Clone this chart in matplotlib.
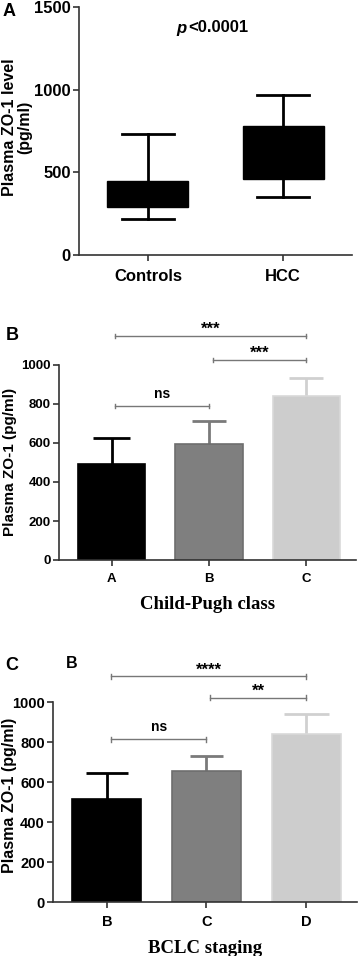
import numpy as np
import matplotlib
matplotlib.use("Agg")
import matplotlib.pyplot as plt

plt.rcParams['font.family'] = ['Liberation Sans', 'DejaVu Sans']
plt.rcParams['font.weight'] = 'bold'

# ---- panel A: box plot ----
groups_a = ["Controls", "HCC"]
whislo_a = [218, 353]
q1_a = [290, 458]
med_a = [370, 620]
q3_a = [448, 780]
whishi_a = [732, 966]

# ---- panel B: Child-Pugh class ----
cats_b = ["A", "B", "C"]
means_b = [492, 593, 841]
err_b = [132, 121, 94]
sig_b = [(0, 1, 790, "ns"), (1, 2, 1026, "***"), (0, 2, 1149, "***")]

# ---- panel C: BCLC staging ----
cats_c = ["B", "C", "D"]
means_c = [513, 655, 842]
err_c = [130, 74, 97]
sig_c = [(0, 1, 814, "ns"), (1, 2, 1021, "**"), (0, 2, 1128, "****")]

bar_colors = ["#000000", "#7f7f7f", "#cdcdcd"]
edge_colors = ["#000000", "#6e6e6e", "#d9d9d9"]
err_colors = ["#000000", "#7a7a7a", "#d0d0d0"]
spine_col = "#333333"

W, H = 358, 956
fig = plt.figure(figsize=(W / 100, H / 100), dpi=100)


def px_axes(l, r, top, bot):
    return fig.add_axes([l / W, 1 - bot / H, (r - l) / W, (bot - top) / H])


def ftext(x, y, s, **kw):
    # place text by pixel position from top-left
    return fig.text(x / W, 1 - y / H, s, **kw)


def style(ax, fs):
    for s in ["top", "right"]:
        ax.spines[s].set_visible(False)
    for s in ["left", "bottom"]:
        ax.spines[s].set_color(spine_col)
        ax.spines[s].set_linewidth(1.2)
    ax.tick_params(axis="both", colors=spine_col, width=1.2, length=4,
                   labelsize=fs, labelcolor="black", pad=2)
    for lab in ax.get_xticklabels() + ax.get_yticklabels():
        lab.set_fontweight("bold")


# Panel A
axA = px_axes(79, 352, 7, 255)
stats = []
for i in range(len(groups_a)):
    stats.append(dict(whislo=whislo_a[i], q1=q1_a[i], med=med_a[i],
                      q3=q3_a[i], whishi=whishi_a[i], fliers=[]))
axA.bxp(stats, positions=[0, 1], widths=0.6, patch_artist=True,
        showfliers=False, capwidths=0.38,
        boxprops=dict(facecolor="black", edgecolor="black", linewidth=1),
        medianprops=dict(color="black", linewidth=0),
        whiskerprops=dict(color="black", linewidth=2),
        capprops=dict(color="black", linewidth=2))
axA.set_xlim(-0.51, 1.51)
axA.set_ylim(0, 1500)
axA.set_yticks([0, 500, 1000, 1500])
axA.set_xticks([0, 1])
axA.set_xticklabels(groups_a)
style(axA, 12)
axA.tick_params(axis="x", labelsize=12, pad=6)
ftext(17, 127, "Plasma ZO-1 level\n(pg/ml)", rotation=90, fontsize=11.5,
      fontweight="bold", ha="center", va="center", multialignment="center",
      linespacing=1.05)
ftext(186, 28, "p", fontsize=12, fontweight="bold", style="italic",
      ha="right", va="center")
ftext(188, 28, "<0.0001", fontsize=12, fontweight="bold",
      ha="left", va="center")
ftext(3, 11, "A", fontsize=13, fontweight="bold", va="center", ha="left")


def bar_panel(ax, cats, means, errs, caps, sigs, xlabel, tick_fs):
    x = np.arange(len(cats))
    means = np.array(means)
    tops = means + np.array(errs)
    # upper-only error bars
    ax.vlines(x, means, tops, colors=err_colors, linewidth=2, zorder=1)
    ax.hlines(tops, x - np.array(caps) / 2, x + np.array(caps) / 2,
              colors=err_colors, linewidth=2, zorder=1)
    ax.bar(x, means, width=0.69, color=bar_colors, edgecolor=edge_colors,
           linewidth=1.2, zorder=2)
    ax.set_xlim(-0.54, 2.51)
    ax.set_ylim(0, 1000)
    ax.set_yticks(np.arange(0, 1001, 200))
    ax.set_xticks(x)
    ax.set_xticklabels(cats)
    style(ax, tick_fs)
    ax.tick_params(axis="x", pad=5)
    ax.set_xlabel(xlabel, fontsize=13.5, fontweight="bold",
                  family=["Liberation Serif", "DejaVu Serif"], labelpad=8)
    for a, b, y, lab in sigs:
        x0, x1 = a + 0.04, b
        ax.plot([x0, x1], [y, y], color="#777777", lw=1, clip_on=False)
        for xe in (x0, x1):
            ax.plot([xe, xe], [y - 12, y + 12], color="#777777", lw=1,
                    clip_on=False)
        if lab == "ns":
            ax.text((x0 + x1) / 2, y + 25, lab, ha="center", va="bottom",
                    fontsize=10, fontweight="bold", clip_on=False)
        else:
            ax.text((x0 + x1) / 2, y - 5, lab, ha="center", va="bottom",
                    fontsize=12, fontweight="bold", clip_on=False)


axB = px_axes(59, 356, 365, 560)
bar_panel(axB, cats_b, means_b, err_b, [0.38, 0.34, 0.35], sig_b,
          "Child-Pugh class", 9.5)
ftext(10, 462, "Plasma ZO-1 (pg/ml)", rotation=90, fontsize=11,
      fontweight="bold", ha="center", va="center")
ftext(6, 335, "B", fontsize=13, fontweight="bold", va="center", ha="left")

axC = px_axes(53, 357, 702, 902)
bar_panel(axC, cats_c, means_c, err_c, [0.42, 0.33, 0.45], sig_c,
          "BCLC staging", 10.5)
ftext(10, 795, "Plasma ZO-1 (pg/ml)", rotation=90, fontsize=11.5,
      fontweight="bold", ha="center", va="center")
ftext(5, 666, "C", fontsize=13, fontweight="bold", va="center", ha="left")
ftext(66, 663, "B", fontsize=11.5, fontweight="bold", va="center", ha="left")

fig.savefig("out.png", dpi=100, facecolor="white")
